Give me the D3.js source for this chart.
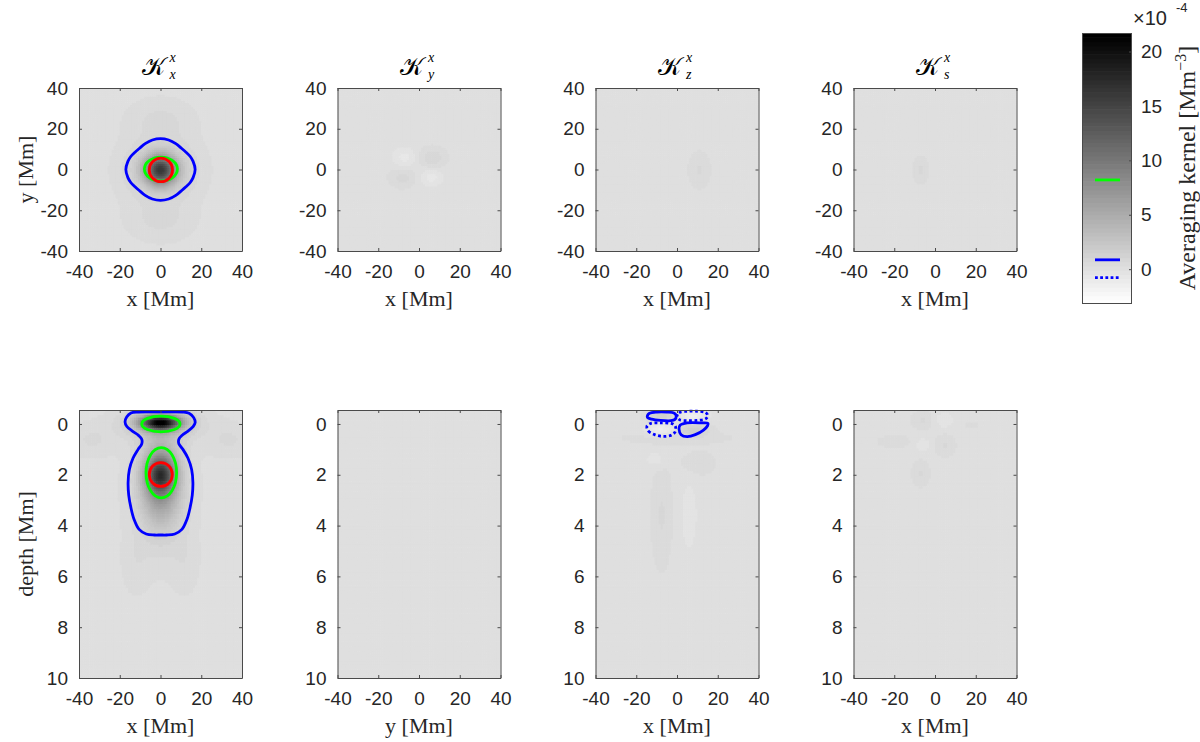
<!DOCTYPE html>
<html><head><meta charset="utf-8">
<script src="https://cdn.jsdelivr.net/npm/d3@7"></script>
<style>
html,body{margin:0;padding:0;background:#fff;}
svg{display:block;}
</style></head><body>
<svg id="chart" width="1200" height="742"></svg>
<script>
// ================= DATA =================
const panelSub = ["x", "y", "z", "s"];           // title subscripts (superscript is "x")
const panelSup = ["x", "x", "x", "x"];
const xTicks = [-40, -20, 0, 20, 40];
const yTicksTop = [-40, -20, 0, 20, 40];
const depthTicks = [0, 2, 4, 6, 8, 10];
const colorbarTicks = [0, 5, 10, 15, 20];
const colorRange = [-3.2, 21.7];                   // ×1e-4 Mm^-3
const topXLabels = ["x [Mm]", "x [Mm]", "x [Mm]", "x [Mm]"];
const bottomXLabels = ["x [Mm]", "y [Mm]", "x [Mm]", "x [Mm]"];
// contour levels (×1e-4), also shown on colorbar
const levelGreen = 8.2, levelBlueSolid = 0.86, levelBlueDotted = -0.77;

// kernel features: [x0, y0(or depth), sx, sy, amplitude ×1e-4]
const blobsTop0 = [[0,0,4.5,4.5,10],[0,0,7,6,5],[0,0,12,11,1.5],[0,25,11,7,0.6],[0,-25,11,7,0.6]];
const blobsTop1 = [[-7,6,4,3.5,-0.8],[6.5,6,4.5,3.5,0.9],[-8,-3.6,4.5,3.5,0.7],[6,-3.6,4,3,-0.8]];
const blobsTop2 = [[11,0,3.5,6,0.6]];
const blobsTop3 = [[-7,0,2.5,4.5,0.6]];
const blobsBot0 = [[0,-0.05,6,0.18,16],[0,-0.05,9,0.3,5],[0,0,14,0.5,1.2],[0,2.0,4.5,0.45,9],[0,2.2,6,1.0,7],[0,2.6,9,1.5,2],
                   [-34,0.65,8,0.45,0.6],[34,0.65,8,0.45,0.6],[-12,5.5,5,0.9,0.4],[12,5.5,5,0.9,0.4]];
const blobsBot1 = [];
const blobsBot2 = [[-7.6,-0.32,5,0.18,1.6],[7.5,-0.32,5,0.18,-1.6],[-7.7,0.22,5,0.18,-1.6],[8,0.2,5,0.18,1.6],[0,0.55,20,0.2,0.4],
                   [-10,1.4,4,0.25,-0.5],[10,1.55,6,0.35,0.5],[-7.5,3.6,3.5,1.4,0.6],[6,3.6,3.5,1.2,-0.4]];
const blobsBot3 = [[-5.7,-0.15,4,0.25,0.6],[4.1,-0.15,4,0.25,-0.5],[-20,0.7,6,0.2,0.4],[-6,0.83,2.5,0.2,-0.6],[5,0.83,3.5,0.3,0.6],
                   [-7,1.95,3,0.35,0.6],[18,0.04,3,0.12,0.3]];

// contour lines (data units)
const topBlueContour = [[17,0],[16,4],[14.5,6.5],[12.5,8.5],[10.2,10.5],[7.5,12.7],[4,14.5],[0,15.2],[-4,14.5],[-7.5,12.7],[-10.2,10.5],
  [-12.5,8.5],[-14.5,6.5],[-16,4],[-17,0],[-16,-4],[-14.5,-6.5],[-12.5,-8.5],[-10.2,-10.5],[-7.5,-12.7],[-4,-14.5],[0,-15.2],
  [4,-14.5],[7.5,-12.7],[10.2,-10.5],[12.5,-8.5],[14.5,-6.5],[16,-4]];
const topEllipses = [ // [cx, cy, rx, ry, level]
  [0.2, 0.2, 8.1, 5.9, "green"], [0.2, -0.2, 5.7, 5.8, "red"]];
const botBlueContour = [[0,-0.48],[6,-0.48],[11,-0.47],[14,-0.42],[16.3,-0.25],[17,-0.05],[16,0.1],[13.5,0.28],[10.5,0.45],[9,0.6],
  [9,0.78],[11,1.0],[13.5,1.35],[15.3,1.8],[15.9,2.3],[15.6,2.8],[14.5,3.3],[13,3.75],[10.5,4.15],[7,4.33],[3,4.37],[0,4.37],
  [-3,4.37],[-7,4.33],[-10.5,4.15],[-13,3.75],[-14.5,3.3],[-15.6,2.8],[-15.9,2.3],[-15.3,1.8],[-13.5,1.35],[-11,1.0],[-9.2,0.78],
  [-9.2,0.6],[-10.8,0.45],[-13.8,0.28],[-16.5,0.1],[-17.4,-0.08],[-16.6,-0.27],[-14.5,-0.43],[-11,-0.47],[-6,-0.48]];
const botEllipses = [
  [0.2, 0.0, 9.4, 0.31, "green"], [0.4, 1.92, 7.5, 0.99, "green"], [0.15, 1.99, 5.65, 0.47, "red"]];
const kzSolidA = [[-14.5,-0.33],[-13.5,-0.42],[-10,-0.47],[-5,-0.47],[-1.2,-0.42],[-0.4,-0.3],[-1,-0.18],[-3,-0.13],[-8,-0.14],[-12.5,-0.19],[-14.5,-0.26]];
const kzDottedA = [[0,-0.3],[1,-0.44],[5,-0.5],[10,-0.5],[14,-0.45],[15.1,-0.33],[14,-0.2],[10,-0.14],[5,-0.13],[1.2,-0.17]];
const kzDottedB = [[-14.8,0.1],[-14,0.28],[-11,0.42],[-7,0.49],[-3,0.45],[-1,0.32],[-0.7,0.12],[-2,0],[-8,-0.04],[-13,-0.02]];
const kzSolidB = [[1,0.2],[2,0.42],[5,0.5],[9,0.42],[13,0.24],[15,0.07],[15.2,-0.02],[12,-0.04],[5,-0.04],[1.5,0.05]];

// ================= LAYOUT =================
const svg = d3.select("#chart");
const panelLefts = [79, 337.5, 595.5, 853.5], panelW = 163;
const topRange = [251, 88], botRange = [410, 678];
const tickFont = "'Liberation Sans', Arial, Helvetica, sans-serif";
const serif = "'Liberation Serif', 'Times New Roman', serif";
const txt = "#262626", axisCol = "#4a4a4a";
const colBlue = "#0000ff", colGreen = "#00ff00", colRed = "#ff0000";

const grayScale = d3.scaleLinear().domain(colorRange).range([1, 0]).clamp(true);
function grayOf(v) { const g = Math.round(grayScale(v) * 63) / 63; const c = Math.round(g * 255); return `rgb(${c},${c},${c})`; }
function field(blobs, x, y) {
  let v = 0;
  for (const [x0, y0, sx, sy, a] of blobs) { const dx = (x - x0) / sx, dy = (y - y0) / sy; v += a * Math.exp(-0.5 * (dx * dx + dy * dy)); }
  return v;
}

const canvas = document.createElement("canvas");
canvas.width = 1200; canvas.height = 742;
const ctx = canvas.getContext("2d");

const blobsTop = [blobsTop0, blobsTop1, blobsTop2, blobsTop3];
const blobsBot = [blobsBot0, blobsBot1, blobsBot2, blobsBot3];

const panels = [];
for (let i = 0; i < 4; i++) {
  const x = d3.scaleLinear().domain([-40, 40]).range([panelLefts[i], panelLefts[i] + panelW]);
  panels.push({row: 0, i, x, y: d3.scaleLinear().domain([-40, 40]).range(topRange), blobs: blobsTop[i], dy: 1, y0: -40, y1: 40});
}
for (let i = 0; i < 4; i++) {
  const x = d3.scaleLinear().domain([-40, 40]).range([panelLefts[i], panelLefts[i] + panelW]);
  panels.push({row: 1, i, x, y: d3.scaleLinear().domain([-0.55, 10]).range(botRange), blobs: blobsBot[i], dy: 0.1, y0: -0.55, y1: 10});
}

// heatmaps
for (const p of panels) {
  for (let xv = -40; xv < 40; xv += 1) {
    for (let yv = p.y0; yv < p.y1 - 1e-9; yv += p.dy) {
      const y2 = Math.min(yv + p.dy, p.y1);
      const v = field(p.blobs, xv + 0.5, (yv + y2) / 2);
      ctx.fillStyle = grayOf(v);
      const px0 = p.x(xv), px1 = p.x(xv + 1);
      const py0 = p.y(yv), py1 = p.y(y2);
      ctx.fillRect(px0, Math.min(py0, py1), px1 - px0 + 0.6, Math.abs(py1 - py0) + 0.6);
    }
  }
}
// colorbar bands
const cbX = 1082, cbW = 50;
const cb = d3.scaleLinear().domain(colorRange).range([304, 33]);
for (let k = 0; k < 64; k++) {
  const v0 = colorRange[0] + (colorRange[1] - colorRange[0]) * k / 64;
  const v1 = colorRange[0] + (colorRange[1] - colorRange[0]) * (k + 1) / 64;
  const c = Math.round((63 - k) / 63 * 255);
  ctx.fillStyle = `rgb(${c},${c},${c})`;
  ctx.fillRect(cbX, cb(v1), cbW, cb(v0) - cb(v1) + 0.6);
}

// clip each panel image region
const defs = svg.append("defs");
panels.forEach((p, k) => {
  const [ya, yb] = p.y.range();
  defs.append("clipPath").attr("id", "clip" + k).append("rect")
    .attr("x", p.x.range()[0]).attr("y", Math.min(ya, yb)).attr("width", panelW).attr("height", Math.abs(yb - ya));
});
defs.append("clipPath").attr("id", "clipcb").append("rect").attr("x", cbX).attr("y", 33).attr("width", cbW).attr("height", 271);

const url = canvas.toDataURL();
panels.forEach((p, k) => {
  svg.append("image").attr("href", url).attr("x", 0).attr("y", 0).attr("width", 1200).attr("height", 742)
    .attr("clip-path", `url(#clip${k})`);
});
svg.append("image").attr("href", url).attr("x", 0).attr("y", 0).attr("width", 1200).attr("height", 742)
  .attr("clip-path", "url(#clipcb)");

// contours
const levelColor = {green: colGreen, red: colRed};
function drawClosed(p, pts, color, dotted) {
  const line = d3.line().x(d => p.x(d[0])).y(d => p.y(d[1])).curve(d3.curveCatmullRomClosed.alpha(0.5));
  svg.append("path").attr("d", line(pts)).attr("fill", "none").attr("stroke", color).attr("stroke-width", 2.8)
    .attr("stroke-dasharray", dotted ? "2.8 2.6" : null).attr("stroke-linejoin", "round");
}
function drawEllipse(p, e) {
  const [cx, cy, rx, ry, lev] = e;
  svg.append("ellipse").attr("cx", p.x(cx)).attr("cy", p.y(cy))
    .attr("rx", Math.abs(p.x(cx + rx) - p.x(cx))).attr("ry", Math.abs(p.y(cy + ry) - p.y(cy)))
    .attr("fill", "none").attr("stroke", levelColor[lev]).attr("stroke-width", 2.8);
}
drawClosed(panels[0], topBlueContour, colBlue, false);
topEllipses.forEach(e => drawEllipse(panels[0], e));
drawClosed(panels[4], botBlueContour, colBlue, false);
botEllipses.forEach(e => drawEllipse(panels[4], e));
drawClosed(panels[6], kzSolidA, colBlue, false);
drawClosed(panels[6], kzSolidB, colBlue, false);
drawClosed(panels[6], kzDottedA, colBlue, true);
drawClosed(panels[6], kzDottedB, colBlue, true);

// axes
function styleAxis(g, showLabels) {
  g.select(".domain").attr("stroke", axisCol).attr("stroke-width", 1);
  g.selectAll(".tick line").attr("stroke", axisCol).attr("stroke-width", 1);
  g.selectAll(".tick text").attr("fill", txt).style("font-family", tickFont).style("font-size", "19px")
    .style("display", showLabels ? null : "none");
}
panels.forEach(p => {
  const [xa, xb] = p.x.range();
  const yr = p.y.range();
  const yTop = Math.min(...yr), yBot = Math.max(...yr);
  const yt = p.row === 0 ? yTicksTop : depthTicks;
  const fmt = d => String(d);
  svg.append("g").attr("transform", `translate(0,${yBot})`)
    .call(d3.axisBottom(p.x).tickValues(xTicks).tickFormat(fmt).tickSizeInner(-3).tickSizeOuter(0).tickPadding(13.5))
    .call(g => styleAxis(g, true));
  svg.append("g").attr("transform", `translate(0,${yTop})`)
    .call(d3.axisTop(p.x).tickValues(xTicks).tickFormat(fmt).tickSizeInner(-3).tickSizeOuter(0))
    .call(g => styleAxis(g, false));
  svg.append("g").attr("transform", `translate(${xa},0)`)
    .call(d3.axisLeft(p.y).tickValues(yt).tickFormat(fmt).tickSizeInner(-3).tickSizeOuter(0).tickPadding(11))
    .call(g => styleAxis(g, true));
  svg.append("g").attr("transform", `translate(${xb},0)`)
    .call(d3.axisRight(p.y).tickValues(yt).tickFormat(fmt).tickSizeInner(-3).tickSizeOuter(0))
    .call(g => styleAxis(g, false));

  // x label
  const labels = p.row === 0 ? topXLabels : bottomXLabels;
  svg.append("text").attr("x", (xa + xb) / 2).attr("y", yBot + 55).attr("text-anchor", "middle")
    .attr("fill", txt).style("font-family", serif).style("font-size", "22px").text(labels[p.i]);
  // y label only first column
  if (p.i === 0) {
    const lab = p.row === 0 ? "y [Mm]" : "depth [Mm]";
    svg.append("text").attr("transform", `translate(33,${(yTop + yBot) / 2}) rotate(-90)`).attr("text-anchor", "middle")
      .attr("fill", txt).style("font-family", serif).style("font-size", "22px").text(lab);
  }
  // titles
  if (p.row === 0) {
    const cx = (xa + xb) / 2;
    svg.append("text").attr("x", cx + 4).attr("y", 75).attr("text-anchor", "end").attr("fill", "#000")
      .style("font-family", "'DejaVu Serif', 'DejaVu Sans', serif").style("font-size", "25px").text("𝒦");
    svg.append("text").attr("x", cx + 9).attr("y", 62).attr("fill", "#000")
      .style("font-family", serif).style("font-style", "italic").style("font-size", "14px").text(panelSup[p.i]);
    svg.append("text").attr("x", cx + 9).attr("y", 79).attr("fill", "#000")
      .style("font-family", serif).style("font-style", "italic").style("font-size", "14px").text(panelSub[p.i]);
  }
});

// colorbar frame, ticks, labels
svg.append("rect").attr("x", cbX + 0.5).attr("y", 33.5).attr("width", cbW - 1).attr("height", 270)
  .attr("fill", "none").attr("stroke", axisCol).attr("stroke-width", 1);
const cbAxis = svg.append("g").attr("transform", `translate(${cbX + cbW},0)`)
  .call(d3.axisRight(cb).tickValues(colorbarTicks).tickFormat(d => String(d)).tickSizeInner(-3).tickSizeOuter(0).tickPadding(9));
cbAxis.select(".domain").remove();
cbAxis.selectAll(".tick line").attr("stroke", axisCol);
cbAxis.selectAll(".tick text").attr("fill", txt).style("font-family", tickFont).style("font-size", "19px");

svg.append("text").attr("x", 1133).attr("y", 25).attr("fill", txt).style("font-family", tickFont).style("font-size", "20px").text("×10");
svg.append("text").attr("x", 1176).attr("y", 12).attr("fill", txt).style("font-family", tickFont).style("font-size", "13px").text("-4");

const cbl = svg.append("text").attr("transform", `translate(1195,168) rotate(-90)`).attr("text-anchor", "middle")
  .attr("fill", txt).style("font-family", serif).style("font-size", "24px");
cbl.append("tspan").text("Averaging kernel [Mm");
cbl.append("tspan").attr("dy", -9).style("font-size", "16px").text("−3");
cbl.append("tspan").attr("dy", 9).text("]");

// colorbar legend marks for contour levels
const legend = [[levelGreen, colGreen, false], [levelBlueSolid, colBlue, false], [levelBlueDotted, colBlue, true]];
legend.forEach(([v, c, dotted]) => {
  svg.append("line").attr("x1", cbX + 13).attr("x2", cbX + 38).attr("y1", cb(v)).attr("y2", cb(v))
    .attr("stroke", c).attr("stroke-width", 2.8).attr("stroke-dasharray", dotted ? "2.8 2.4" : null);
});
</script>
</body></html>
